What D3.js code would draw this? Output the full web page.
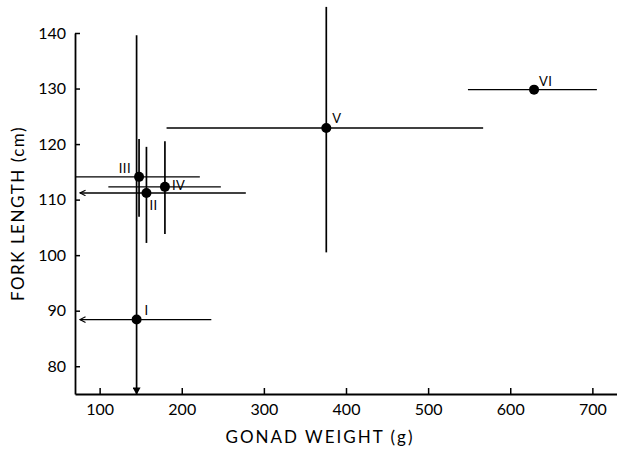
<!DOCTYPE html>
<html lang="en">
<head>
<meta charset="UTF-8">
<script src="https://d3js.org/d3.v7.min.js"></script>
<style>
body{
	margin: 0;
	background-color: white;
}
svg text{
	font-family: Lato, "Open Sans", sans-serif;
	fill: black;
	-webkit-font-smoothing: antialiased;
}
.axis path, .axis line{
	stroke: black;
}
</style>
</head>
<body>
<svg width="617" height="458"></svg>

<script>
// groups and their means / ranges
const groups = ["I", "II", "III", "IV", "V", "VI"]
const weightMean = [145, 157, 148, 179.5, 376, 629]
const weightLow = [76, 76, 70, 110.6, 181.5, 548.5]
const weightHigh = [236, 278, 222, 247.6, 567, 705.5]
const lengthMean = [88.4, 111.2, 114.1, 112.3, 122.9, 129.8]
const lengthLow = [75, 102.2, 106.9, 103.8, 100.5, null]
const lengthHigh = [139.6, 119.5, 120.9, 120.5, 144.7, null]
// open ended ranges (drawn with an arrow)
const weightLowOpen = [true, true, false, false, false, false]
const lengthLowOpen = [true, false, false, false, false, false]

const xTicks = [100, 200, 300, 400, 500, 600, 700]
const yTicks = [80, 90, 100, 110, 120, 130, 140]

const data = groups.map(function(g, i){
	return {
		name: g,
		x: weightMean[i], x0: weightLow[i], x1: weightHigh[i],
		y: lengthMean[i], y0: lengthLow[i], y1: lengthHigh[i],
		x0open: weightLowOpen[i], y0open: lengthLowOpen[i]
	}
})

const svg = d3.select("svg")

const x = d3.scaleLinear().domain([70, 730]).range([75, 617])
const y = d3.scaleLinear().domain([75, 140]).range([394, 33])

// arrow heads
const defs = svg.append("defs")
defs.append("marker").attr("id", "arrowOpen")
	.attr("viewBox", "0 0 10 10").attr("refX", 9).attr("refY", 5)
	.attr("markerWidth", 7).attr("markerHeight", 7).attr("markerUnits", "userSpaceOnUse")
	.attr("orient", "auto")
	.append("path").attr("d", "M1,1 L9,5 L1,9").style("fill", "none").style("stroke", "black").style("stroke-width", 1.6)
defs.append("marker").attr("id", "arrowFilled")
	.attr("viewBox", "0 0 10 10").attr("refX", 9).attr("refY", 5)
	.attr("markerWidth", 8).attr("markerHeight", 8).attr("markerUnits", "userSpaceOnUse")
	.attr("orient", "auto")
	.append("path").attr("d", "M1,0 L10,5 L1,10 Z").style("fill", "black")

// axes
const xAxis = svg.append("g").attr("class", "axis")
	.attr("transform", "translate(0," + y.range()[0] + ")")
	.call(d3.axisBottom(x).tickValues(xTicks).tickSizeInner(-6).tickSizeOuter(0).tickPadding(10))
xAxis.select(".domain").style("stroke-width", 1.8)
xAxis.selectAll(".tick line").style("stroke-width", 1.5)
xAxis.selectAll("text").style("font-size", "16px")

const yAxis = svg.append("g").attr("class", "axis")
	.attr("transform", "translate(" + x.range()[0] + ",0)")
	.call(d3.axisLeft(y).tickValues(yTicks).tickSizeInner(-5).tickSizeOuter(0).tickPadding(9))
yAxis.select(".domain").style("stroke-width", 1.8)
yAxis.selectAll(".tick line").style("stroke-width", 1.5)
yAxis.selectAll("text").style("font-size", "16px")

svg.append("text")
	.attr("x", 320).attr("y", 443)
	.attr("text-anchor", "middle")
	.style("font-size", "17px").style("letter-spacing", "2px")
	.text("GONAD WEIGHT (g)")

svg.append("text")
	.attr("transform", "translate(24," + (y.range()[0] + y.range()[1]) / 2 + ") rotate(-90)")
	.attr("text-anchor", "middle")
	.style("font-size", "17px").style("letter-spacing", "1.5px")
	.text("FORK LENGTH (cm)")

const plot = svg.append("g")

// horizontal ranges
plot.selectAll(".hbar")
	.data(data)
	.join("line")
	.attr("class", "hbar")
	.attr("x1", function(d){return x(d.x1)})
	.attr("x2", function(d){return x(d.x0)})
	.attr("y1", function(d){return y(d.y)})
	.attr("y2", function(d){return y(d.y)})
	.attr("marker-end", function(d){return d.x0open ? "url(#arrowOpen)" : null})
	.style("stroke", "black")
	.style("stroke-width", 1.4)

// vertical ranges
plot.selectAll(".vbar")
	.data(data.filter(function(d){return d.y0 !== null}))
	.join("line")
	.attr("class", "vbar")
	.attr("x1", function(d){return x(d.x)})
	.attr("x2", function(d){return x(d.x)})
	.attr("y1", function(d){return y(d.y1)})
	.attr("y2", function(d){return y(d.y0)})
	.attr("marker-end", function(d){return d.y0open ? "url(#arrowFilled)" : null})
	.style("stroke", "black")
	.style("stroke-width", 1.7)

plot.selectAll(".dot")
	.data(data)
	.join("circle")
	.attr("class", "dot")
	.attr("cx", function(d){return x(d.x)})
	.attr("cy", function(d){return y(d.y)})
	.attr("r", 5)
	.style("fill", "black")

// label placement next to each mean
const labelShift = {
	"I": [8, -5, "start"],
	"II": [3, 17, "start"],
	"III": [-8, -4, "end"],
	"IV": [7, 3, "start"],
	"V": [6, -5, "start"],
	"VI": [5, -4, "start"]
}

// own layer so the thin roman numerals get grey antialiasing
const labelG = svg.append("g").style("opacity", 0.99)

labelG.selectAll(".lab")
	.data(data)
	.join("text")
	.attr("class", "lab")
	.attr("x", function(d){return x(d.x) + labelShift[d.name][0]})
	.attr("y", function(d){return y(d.y) + labelShift[d.name][1]})
	.attr("text-anchor", function(d){return labelShift[d.name][2]})
	.style("font-size", "13px")
	.style("letter-spacing", "0.5px")
	.text(function(d){return d.name})
</script>
</body>
</html>
